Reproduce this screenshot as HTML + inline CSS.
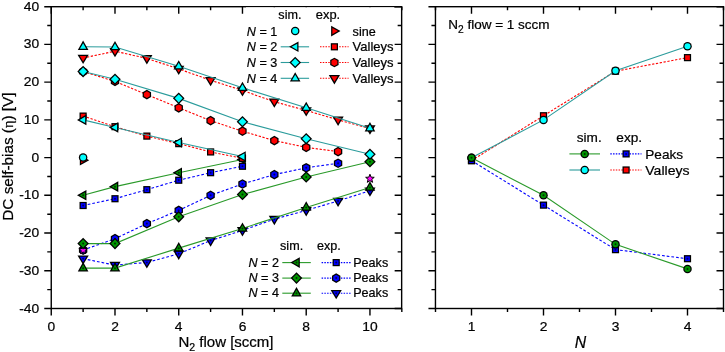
<!DOCTYPE html>
<html><head><meta charset="utf-8"><title>chart</title>
<style>html,body{margin:0;padding:0;background:#fff}svg{display:block;will-change:transform}text{stroke:#000;stroke-width:0.22px}</style></head>
<body>
<svg width="725" height="352" viewBox="0 0 725 352" font-family="Liberation Sans, sans-serif" fill="#000" stroke="none">
<rect width="725" height="352" fill="#fff"/>
<g id="ldata">
<path d="M83.12,195.32 L114.99,186.65 L178.73,172.69 L242.47,159.49" fill="none" stroke="#2a9a2a" stroke-width="1.1"/>
<polygon points="77.02,195.32 86.42,190.02 86.42,200.62" fill="#000"/><polygon points="79.57,195.32 85.17,192.16 85.17,198.49" fill="#009400"/><circle cx="83.12" cy="195.32" r="1.0" fill="#000" fill-opacity="0.65"/>
<polygon points="108.89,186.65 118.29,181.35 118.29,191.95" fill="#000"/><polygon points="111.44,186.65 117.04,183.49 117.04,189.81" fill="#009400"/><circle cx="114.99" cy="186.65" r="1.0" fill="#000" fill-opacity="0.65"/>
<polygon points="172.63,172.69 182.03,167.39 182.03,177.99" fill="#000"/><polygon points="175.18,172.69 180.78,169.53 180.78,175.85" fill="#009400"/><circle cx="178.73" cy="172.69" r="1.0" fill="#000" fill-opacity="0.65"/>
<polygon points="236.37,159.49 245.77,154.19 245.77,164.79" fill="#000"/><polygon points="238.92,159.49 244.52,156.33 244.52,162.65" fill="#009400"/><circle cx="242.47" cy="159.49" r="1.0" fill="#000" fill-opacity="0.65"/>
<path d="M83.12,58.01 L114.99,51.22 L146.86,58.38 L178.73,68.95 L210.60,80.26 L242.47,90.45 L274.34,101.77 L306.21,110.44 L338.08,119.88 L369.95,128.55" fill="none" stroke="#ff0000" stroke-width="1.1" stroke-dasharray="2.3,1.6"/>
<polygon points="83.12,64.11 88.72,54.71 77.52,54.71" fill="#000"/><polygon points="83.12,61.56 86.46,55.96 79.78,55.96" fill="#ff0000"/>
<polygon points="114.99,57.32 120.59,47.92 109.39,47.92" fill="#000"/><polygon points="114.99,54.77 118.33,49.17 111.65,49.17" fill="#ff0000"/>
<polygon points="146.86,64.48 152.46,55.08 141.26,55.08" fill="#000"/><polygon points="146.86,61.94 150.20,56.33 143.52,56.33" fill="#ff0000"/>
<polygon points="178.73,75.05 184.33,65.65 173.13,65.65" fill="#000"/><polygon points="178.73,72.50 182.07,66.90 175.39,66.90" fill="#ff0000"/>
<polygon points="210.60,86.36 216.20,76.96 205.00,76.96" fill="#000"/><polygon points="210.60,83.82 213.94,78.21 207.26,78.21" fill="#ff0000"/>
<polygon points="242.47,96.55 248.07,87.15 236.87,87.15" fill="#000"/><polygon points="242.47,94.00 245.81,88.40 239.13,88.40" fill="#ff0000"/>
<polygon points="274.34,107.87 279.94,98.47 268.74,98.47" fill="#000"/><polygon points="274.34,105.32 277.68,99.72 271.00,99.72" fill="#ff0000"/>
<polygon points="306.21,116.54 311.81,107.14 300.61,107.14" fill="#000"/><polygon points="306.21,114.00 309.55,108.39 302.87,108.39" fill="#ff0000"/>
<polygon points="338.08,125.97 343.68,116.58 332.48,116.58" fill="#000"/><polygon points="338.08,123.43 341.42,117.83 334.74,117.83" fill="#ff0000"/>
<polygon points="369.95,134.65 375.55,125.25 364.35,125.25" fill="#000"/><polygon points="369.95,132.11 373.29,126.50 366.61,126.50" fill="#ff0000"/>
<path d="M83.12,71.59 L114.99,81.40 L146.86,94.60 L178.73,107.80 L210.60,120.63 L242.47,131.19 L274.34,140.62 L306.21,147.41 L338.08,151.56" fill="none" stroke="#ff0000" stroke-width="1.1" stroke-dasharray="2.3,1.6"/>
<polygon points="83.12,66.74 87.32,69.16 87.32,74.01 83.12,76.44 78.92,74.01 78.92,69.16" fill="#000"/><polygon points="83.12,68.18 86.07,69.88 86.07,73.29 83.12,74.99 80.17,73.29 80.17,69.88" fill="#ff0000"/>
<polygon points="114.99,76.55 119.19,78.97 119.19,83.82 114.99,86.25 110.79,83.82 110.79,78.97" fill="#000"/><polygon points="114.99,77.99 117.94,79.69 117.94,83.10 114.99,84.80 112.04,83.10 112.04,79.69" fill="#ff0000"/>
<polygon points="146.86,89.75 151.06,92.17 151.06,97.02 146.86,99.45 142.66,97.02 142.66,92.17" fill="#000"/><polygon points="146.86,91.19 149.81,92.90 149.81,96.30 146.86,98.01 143.91,96.30 143.91,92.90" fill="#ff0000"/>
<polygon points="178.73,102.95 182.93,105.38 182.93,110.23 178.73,112.65 174.53,110.23 174.53,105.38" fill="#000"/><polygon points="178.73,104.40 181.68,106.10 181.68,109.51 178.73,111.21 175.78,109.51 175.78,106.10" fill="#ff0000"/>
<polygon points="210.60,115.78 214.80,118.20 214.80,123.05 210.60,125.48 206.40,123.05 206.40,118.20" fill="#000"/><polygon points="210.60,117.22 213.55,118.93 213.55,122.33 210.60,124.04 207.65,122.33 207.65,118.93" fill="#ff0000"/>
<polygon points="242.47,126.34 246.67,128.77 246.67,133.62 242.47,136.04 238.27,133.62 238.27,128.77" fill="#000"/><polygon points="242.47,127.79 245.42,129.49 245.42,132.90 242.47,134.60 239.52,132.90 239.52,129.49" fill="#ff0000"/>
<polygon points="274.34,135.77 278.54,138.20 278.54,143.05 274.34,145.47 270.14,143.05 270.14,138.20" fill="#000"/><polygon points="274.34,137.22 277.29,138.92 277.29,142.33 274.34,144.03 271.39,142.33 271.39,138.92" fill="#ff0000"/>
<polygon points="306.21,142.56 310.41,144.99 310.41,149.84 306.21,152.26 302.01,149.84 302.01,144.99" fill="#000"/><polygon points="306.21,144.01 309.16,145.71 309.16,149.12 306.21,150.82 303.26,149.12 303.26,145.71" fill="#ff0000"/>
<polygon points="338.08,146.71 342.28,149.14 342.28,153.99 338.08,156.41 333.88,153.99 333.88,149.14" fill="#000"/><polygon points="338.08,148.16 341.03,149.86 341.03,153.27 338.08,154.97 335.13,153.27 335.13,149.86" fill="#ff0000"/>
<path d="M83.12,116.10 L114.99,126.67 L146.86,136.10 L178.73,143.64 L210.60,151.94 L242.47,158.35" fill="none" stroke="#ff0000" stroke-width="1.1" stroke-dasharray="2.3,1.6"/>
<rect x="79.52" y="112.50" width="7.20" height="7.20" fill="#000"/><rect x="80.77" y="113.75" width="4.70" height="4.70" fill="#ff0000"/>
<rect x="111.39" y="123.07" width="7.20" height="7.20" fill="#000"/><rect x="112.64" y="124.32" width="4.70" height="4.70" fill="#ff0000"/>
<rect x="143.26" y="132.50" width="7.20" height="7.20" fill="#000"/><rect x="144.51" y="133.75" width="4.70" height="4.70" fill="#ff0000"/>
<rect x="175.13" y="140.04" width="7.20" height="7.20" fill="#000"/><rect x="176.38" y="141.29" width="4.70" height="4.70" fill="#ff0000"/>
<rect x="207.00" y="148.34" width="7.20" height="7.20" fill="#000"/><rect x="208.25" y="149.59" width="4.70" height="4.70" fill="#ff0000"/>
<rect x="238.87" y="154.75" width="7.20" height="7.20" fill="#000"/><rect x="240.12" y="156.00" width="4.70" height="4.70" fill="#ff0000"/>
<polygon points="89.22,160.13 79.82,154.83 79.82,165.43" fill="#000"/><polygon points="86.67,160.13 81.07,156.97 81.07,163.29" fill="#ff0000"/>
<path d="M83.12,205.51 L114.99,198.72 L146.86,189.67 L178.73,180.23 L210.60,172.69 L242.47,166.28" fill="none" stroke="#0000ff" stroke-width="1.1" stroke-dasharray="2.7,2.0"/>
<rect x="79.52" y="201.91" width="7.20" height="7.20" fill="#000"/><rect x="80.77" y="203.16" width="4.70" height="4.70" fill="#0000ff"/><circle cx="83.12" cy="205.51" r="1.0" fill="#000" fill-opacity="0.65"/>
<rect x="111.39" y="195.12" width="7.20" height="7.20" fill="#000"/><rect x="112.64" y="196.37" width="4.70" height="4.70" fill="#0000ff"/><circle cx="114.99" cy="198.72" r="1.0" fill="#000" fill-opacity="0.65"/>
<rect x="143.26" y="186.07" width="7.20" height="7.20" fill="#000"/><rect x="144.51" y="187.32" width="4.70" height="4.70" fill="#0000ff"/><circle cx="146.86" cy="189.67" r="1.0" fill="#000" fill-opacity="0.65"/>
<rect x="175.13" y="176.63" width="7.20" height="7.20" fill="#000"/><rect x="176.38" y="177.88" width="4.70" height="4.70" fill="#0000ff"/><circle cx="178.73" cy="180.23" r="1.0" fill="#000" fill-opacity="0.65"/>
<rect x="207.00" y="169.09" width="7.20" height="7.20" fill="#000"/><rect x="208.25" y="170.34" width="4.70" height="4.70" fill="#0000ff"/><circle cx="210.60" cy="172.69" r="1.0" fill="#000" fill-opacity="0.65"/>
<rect x="238.87" y="162.68" width="7.20" height="7.20" fill="#000"/><rect x="240.12" y="163.93" width="4.70" height="4.70" fill="#0000ff"/><circle cx="242.47" cy="166.28" r="1.0" fill="#000" fill-opacity="0.65"/>
<path d="M83.12,250.03 L114.99,238.71 L146.86,223.62 L178.73,210.41 L210.60,195.32 L242.47,184.01 L274.34,174.58 L306.21,167.79 L338.08,163.26" fill="none" stroke="#0000ff" stroke-width="1.1" stroke-dasharray="2.7,2.0"/>
<polygon points="83.12,245.18 87.32,247.60 87.32,252.45 83.12,254.88 78.92,252.45 78.92,247.60" fill="#000"/><polygon points="83.12,246.62 86.07,248.32 86.07,251.73 83.12,253.43 80.17,251.73 80.17,248.32" fill="#0000ff"/><circle cx="83.12" cy="250.03" r="1.0" fill="#000" fill-opacity="0.65"/>
<polygon points="114.99,233.86 119.19,236.28 119.19,241.13 114.99,243.56 110.79,241.13 110.79,236.28" fill="#000"/><polygon points="114.99,235.30 117.94,237.01 117.94,240.41 114.99,242.12 112.04,240.41 112.04,237.01" fill="#0000ff"/><circle cx="114.99" cy="238.71" r="1.0" fill="#000" fill-opacity="0.65"/>
<polygon points="146.86,218.77 151.06,221.19 151.06,226.04 146.86,228.47 142.66,226.04 142.66,221.19" fill="#000"/><polygon points="146.86,220.21 149.81,221.92 149.81,225.32 146.86,227.03 143.91,225.32 143.91,221.92" fill="#0000ff"/><circle cx="146.86" cy="223.62" r="1.0" fill="#000" fill-opacity="0.65"/>
<polygon points="178.73,205.56 182.93,207.99 182.93,212.84 178.73,215.26 174.53,212.84 174.53,207.99" fill="#000"/><polygon points="178.73,207.01 181.68,208.71 181.68,212.12 178.73,213.82 175.78,212.12 175.78,208.71" fill="#0000ff"/><circle cx="178.73" cy="210.41" r="1.0" fill="#000" fill-opacity="0.65"/>
<polygon points="210.60,190.47 214.80,192.90 214.80,197.75 210.60,200.17 206.40,197.75 206.40,192.90" fill="#000"/><polygon points="210.60,191.92 213.55,193.62 213.55,197.03 210.60,198.73 207.65,197.03 207.65,193.62" fill="#0000ff"/><circle cx="210.60" cy="195.32" r="1.0" fill="#000" fill-opacity="0.65"/>
<polygon points="242.47,179.16 246.67,181.58 246.67,186.43 242.47,188.86 238.27,186.43 238.27,181.58" fill="#000"/><polygon points="242.47,180.60 245.42,182.30 245.42,185.71 242.47,187.41 239.52,185.71 239.52,182.30" fill="#0000ff"/><circle cx="242.47" cy="184.01" r="1.0" fill="#000" fill-opacity="0.65"/>
<polygon points="274.34,169.73 278.54,172.15 278.54,177.00 274.34,179.43 270.14,177.00 270.14,172.15" fill="#000"/><polygon points="274.34,171.17 277.29,172.87 277.29,176.28 274.34,177.98 271.39,176.28 271.39,172.87" fill="#0000ff"/><circle cx="274.34" cy="174.58" r="1.0" fill="#000" fill-opacity="0.65"/>
<polygon points="306.21,162.94 310.41,165.36 310.41,170.21 306.21,172.64 302.01,170.21 302.01,165.36" fill="#000"/><polygon points="306.21,164.38 309.16,166.08 309.16,169.49 306.21,171.19 303.26,169.49 303.26,166.08" fill="#0000ff"/><circle cx="306.21" cy="167.79" r="1.0" fill="#000" fill-opacity="0.65"/>
<polygon points="338.08,158.41 342.28,160.83 342.28,165.68 338.08,168.11 333.88,165.68 333.88,160.83" fill="#000"/><polygon points="338.08,159.85 341.03,161.56 341.03,164.96 338.08,166.67 335.13,164.96 335.13,161.56" fill="#0000ff"/><circle cx="338.08" cy="163.26" r="1.0" fill="#000" fill-opacity="0.65"/>
<path d="M83.12,258.70 L114.99,265.12 L146.86,262.48 L178.73,253.80 L210.60,240.59 L242.47,230.41 L274.34,219.09 L306.21,210.41 L338.08,200.98 L369.95,190.72" fill="none" stroke="#0000ff" stroke-width="1.1" stroke-dasharray="2.7,2.0"/>
<polygon points="83.12,264.80 88.72,255.40 77.52,255.40" fill="#000"/><polygon points="83.12,262.26 86.46,256.65 79.78,256.65" fill="#0000ff"/><circle cx="83.12" cy="258.70" r="1.0" fill="#000" fill-opacity="0.65"/>
<polygon points="114.99,271.22 120.59,261.82 109.39,261.82" fill="#000"/><polygon points="114.99,268.67 118.33,263.07 111.65,263.07" fill="#0000ff"/><circle cx="114.99" cy="265.12" r="1.0" fill="#000" fill-opacity="0.65"/>
<polygon points="146.86,268.58 152.46,259.18 141.26,259.18" fill="#000"/><polygon points="146.86,266.03 150.20,260.43 143.52,260.43" fill="#0000ff"/><circle cx="146.86" cy="262.48" r="1.0" fill="#000" fill-opacity="0.65"/>
<polygon points="178.73,259.90 184.33,250.50 173.13,250.50" fill="#000"/><polygon points="178.73,257.35 182.07,251.75 175.39,251.75" fill="#0000ff"/><circle cx="178.73" cy="253.80" r="1.0" fill="#000" fill-opacity="0.65"/>
<polygon points="210.60,246.69 216.20,237.29 205.00,237.29" fill="#000"/><polygon points="210.60,244.15 213.94,238.54 207.26,238.54" fill="#0000ff"/><circle cx="210.60" cy="240.59" r="1.0" fill="#000" fill-opacity="0.65"/>
<polygon points="242.47,236.51 248.07,227.11 236.87,227.11" fill="#000"/><polygon points="242.47,233.96 245.81,228.36 239.13,228.36" fill="#0000ff"/><circle cx="242.47" cy="230.41" r="1.0" fill="#000" fill-opacity="0.65"/>
<polygon points="274.34,225.19 279.94,215.79 268.74,215.79" fill="#000"/><polygon points="274.34,222.65 277.68,217.04 271.00,217.04" fill="#0000ff"/><circle cx="274.34" cy="219.09" r="1.0" fill="#000" fill-opacity="0.65"/>
<polygon points="306.21,216.51 311.81,207.11 300.61,207.11" fill="#000"/><polygon points="306.21,213.97 309.55,208.36 302.87,208.36" fill="#0000ff"/><circle cx="306.21" cy="210.41" r="1.0" fill="#000" fill-opacity="0.65"/>
<polygon points="338.08,207.08 343.68,197.68 332.48,197.68" fill="#000"/><polygon points="338.08,204.54 341.42,198.93 334.74,198.93" fill="#0000ff"/><circle cx="338.08" cy="200.98" r="1.0" fill="#000" fill-opacity="0.65"/>
<polygon points="369.95,196.82 375.55,187.42 364.35,187.42" fill="#000"/><polygon points="369.95,194.28 373.29,188.67 366.61,188.67" fill="#0000ff"/><circle cx="369.95" cy="190.72" r="1.0" fill="#000" fill-opacity="0.65"/>
<polygon points="83.12,245.53 84.27,248.45 87.40,248.64 84.97,250.63 85.77,253.67 83.12,251.98 80.47,253.67 81.27,250.63 78.84,248.64 81.97,248.45" fill="#ff00ff" stroke="#000" stroke-width="1.0" stroke-linejoin="miter"/>
<polygon points="369.95,174.23 371.10,177.15 374.23,177.34 371.80,179.33 372.60,182.37 369.95,180.68 367.30,182.37 368.10,179.33 365.67,177.34 368.80,177.15" fill="#ff00ff" stroke="#000" stroke-width="1.0" stroke-linejoin="miter"/>
<path d="M83.12,243.61 L114.99,243.61 L178.73,216.83 L242.47,194.57 L306.21,177.03 L369.95,161.75" fill="none" stroke="#2a9a2a" stroke-width="1.1"/>
<polygon points="77.32,243.61 83.12,237.81 88.92,243.61 83.12,249.41" fill="#000"/><polygon points="79.09,243.61 83.12,239.58 87.15,243.61 83.12,247.65" fill="#009400"/><circle cx="83.12" cy="243.61" r="1.0" fill="#000" fill-opacity="0.65"/>
<polygon points="109.19,243.61 114.99,237.81 120.79,243.61 114.99,249.41" fill="#000"/><polygon points="110.96,243.61 114.99,239.58 119.02,243.61 114.99,247.65" fill="#009400"/><circle cx="114.99" cy="243.61" r="1.0" fill="#000" fill-opacity="0.65"/>
<polygon points="172.93,216.83 178.73,211.03 184.53,216.83 178.73,222.63" fill="#000"/><polygon points="174.70,216.83 178.73,212.80 182.76,216.83 178.73,220.86" fill="#009400"/><circle cx="178.73" cy="216.83" r="1.0" fill="#000" fill-opacity="0.65"/>
<polygon points="236.67,194.57 242.47,188.77 248.27,194.57 242.47,200.37" fill="#000"/><polygon points="238.44,194.57 242.47,190.54 246.50,194.57 242.47,198.60" fill="#009400"/><circle cx="242.47" cy="194.57" r="1.0" fill="#000" fill-opacity="0.65"/>
<polygon points="300.41,177.03 306.21,171.23 312.01,177.03 306.21,182.83" fill="#000"/><polygon points="302.18,177.03 306.21,173.00 310.24,177.03 306.21,181.06" fill="#009400"/><circle cx="306.21" cy="177.03" r="1.0" fill="#000" fill-opacity="0.65"/>
<polygon points="364.15,161.75 369.95,155.95 375.75,161.75 369.95,167.55" fill="#000"/><polygon points="365.92,161.75 369.95,157.72 373.98,161.75 369.95,165.78" fill="#009400"/><circle cx="369.95" cy="161.75" r="1.0" fill="#000" fill-opacity="0.65"/>
<path d="M83.12,268.13 L114.99,268.13 L178.73,248.14 L242.47,228.52 L306.21,207.40 L369.95,187.40" fill="none" stroke="#2a9a2a" stroke-width="1.1"/>
<polygon points="83.12,262.03 88.42,271.43 77.82,271.43" fill="#000"/><polygon points="83.12,264.58 86.28,270.18 79.96,270.18" fill="#009400"/><circle cx="83.12" cy="268.13" r="1.0" fill="#000" fill-opacity="0.65"/>
<polygon points="114.99,262.03 120.29,271.43 109.69,271.43" fill="#000"/><polygon points="114.99,264.58 118.15,270.18 111.83,270.18" fill="#009400"/><circle cx="114.99" cy="268.13" r="1.0" fill="#000" fill-opacity="0.65"/>
<polygon points="178.73,242.04 184.03,251.44 173.43,251.44" fill="#000"/><polygon points="178.73,244.59 181.89,250.19 175.57,250.19" fill="#009400"/><circle cx="178.73" cy="248.14" r="1.0" fill="#000" fill-opacity="0.65"/>
<polygon points="242.47,222.42 247.77,231.82 237.17,231.82" fill="#000"/><polygon points="242.47,224.97 245.63,230.57 239.31,230.57" fill="#009400"/><circle cx="242.47" cy="228.52" r="1.0" fill="#000" fill-opacity="0.65"/>
<polygon points="306.21,201.30 311.51,210.70 300.91,210.70" fill="#000"/><polygon points="306.21,203.84 309.37,209.45 303.05,209.45" fill="#009400"/><circle cx="306.21" cy="207.40" r="1.0" fill="#000" fill-opacity="0.65"/>
<polygon points="369.95,181.30 375.25,190.70 364.65,190.70" fill="#000"/><polygon points="369.95,183.85 373.11,189.45 366.79,189.45" fill="#009400"/><circle cx="369.95" cy="187.40" r="1.0" fill="#000" fill-opacity="0.65"/>
<circle cx="83.12" cy="157.60" r="4.25" fill="#000"/><circle cx="83.12" cy="157.60" r="3.0" fill="#00ffff"/>
<path d="M83.12,119.88 L114.99,127.42 L178.73,142.51 L242.47,156.47" fill="none" stroke="#2b9c9c" stroke-width="1.1"/>
<polygon points="77.02,119.88 86.42,114.58 86.42,125.17" fill="#000"/><polygon points="79.57,119.88 85.17,116.71 85.17,123.04" fill="#00ffff"/>
<polygon points="108.89,127.42 118.29,122.12 118.29,132.72" fill="#000"/><polygon points="111.44,127.42 117.04,124.26 117.04,130.58" fill="#00ffff"/>
<polygon points="172.63,142.51 182.03,137.21 182.03,147.81" fill="#000"/><polygon points="175.18,142.51 180.78,139.35 180.78,145.67" fill="#00ffff"/>
<polygon points="236.37,156.47 245.77,151.17 245.77,161.77" fill="#000"/><polygon points="238.92,156.47 244.52,153.31 244.52,159.63" fill="#00ffff"/>
<path d="M83.12,71.59 L114.99,79.32 L178.73,98.37 L242.47,121.76 L306.21,138.74 L369.95,154.20" fill="none" stroke="#2b9c9c" stroke-width="1.1"/>
<polygon points="77.32,71.59 83.12,65.79 88.92,71.59 83.12,77.39" fill="#000"/><polygon points="79.09,71.59 83.12,67.55 87.15,71.59 83.12,75.62" fill="#00ffff"/>
<polygon points="109.19,79.32 114.99,73.52 120.79,79.32 114.99,85.12" fill="#000"/><polygon points="110.96,79.32 114.99,75.29 119.02,79.32 114.99,83.35" fill="#00ffff"/>
<polygon points="172.93,98.37 178.73,92.57 184.53,98.37 178.73,104.17" fill="#000"/><polygon points="174.70,98.37 178.73,94.34 182.76,98.37 178.73,102.40" fill="#00ffff"/>
<polygon points="236.67,121.76 242.47,115.96 248.27,121.76 242.47,127.56" fill="#000"/><polygon points="238.44,121.76 242.47,117.73 246.50,121.76 242.47,125.79" fill="#00ffff"/>
<polygon points="300.41,138.74 306.21,132.94 312.01,138.74 306.21,144.54" fill="#000"/><polygon points="302.18,138.74 306.21,134.71 310.24,138.74 306.21,142.77" fill="#00ffff"/>
<polygon points="364.15,154.20 369.95,148.40 375.75,154.20 369.95,160.00" fill="#000"/><polygon points="365.92,154.20 369.95,150.17 373.98,154.20 369.95,158.24" fill="#00ffff"/>
<path d="M83.12,46.69 L114.99,47.07 L178.73,66.31 L242.47,87.81 L306.21,107.80 L369.95,128.17" fill="none" stroke="#2b9c9c" stroke-width="1.1"/>
<polygon points="83.12,40.59 88.42,49.99 77.82,49.99" fill="#000"/><polygon points="83.12,43.13 86.28,48.74 79.96,48.74" fill="#00ffff"/>
<polygon points="114.99,40.97 120.29,50.37 109.69,50.37" fill="#000"/><polygon points="114.99,43.51 118.15,49.12 111.83,49.12" fill="#00ffff"/>
<polygon points="178.73,60.21 184.03,69.61 173.43,69.61" fill="#000"/><polygon points="178.73,62.75 181.89,68.36 175.57,68.36" fill="#00ffff"/>
<polygon points="242.47,81.71 247.77,91.11 237.17,91.11" fill="#000"/><polygon points="242.47,84.25 245.63,89.86 239.31,89.86" fill="#00ffff"/>
<polygon points="306.21,101.70 311.51,111.10 300.91,111.10" fill="#000"/><polygon points="306.21,104.25 309.37,109.85 303.05,109.85" fill="#00ffff"/>
<polygon points="369.95,122.07 375.25,131.47 364.65,131.47" fill="#000"/><polygon points="369.95,124.62 373.11,130.22 366.79,130.22" fill="#00ffff"/>
</g>
<g id="rdata">
<path d="M471.50,160.62 L543.50,115.73 L615.50,71.21 L687.50,57.63" fill="none" stroke="#ff0000" stroke-width="1.1" stroke-dasharray="2.3,1.6"/>
<rect x="467.90" y="157.02" width="7.20" height="7.20" fill="#000"/><rect x="469.15" y="158.27" width="4.70" height="4.70" fill="#ff0000"/>
<rect x="539.90" y="112.13" width="7.20" height="7.20" fill="#000"/><rect x="541.15" y="113.38" width="4.70" height="4.70" fill="#ff0000"/>
<rect x="611.90" y="67.61" width="7.20" height="7.20" fill="#000"/><rect x="613.15" y="68.86" width="4.70" height="4.70" fill="#ff0000"/>
<rect x="683.90" y="54.03" width="7.20" height="7.20" fill="#000"/><rect x="685.15" y="55.28" width="4.70" height="4.70" fill="#ff0000"/>
<path d="M471.50,160.62 L543.50,205.13 L615.50,249.65 L687.50,258.70" fill="none" stroke="#0000ff" stroke-width="1.1" stroke-dasharray="2.7,2.0"/>
<rect x="467.90" y="157.02" width="7.20" height="7.20" fill="#000"/><rect x="469.15" y="158.27" width="4.70" height="4.70" fill="#0000ff"/><circle cx="471.50" cy="160.62" r="1.0" fill="#000" fill-opacity="0.65"/>
<rect x="539.90" y="201.53" width="7.20" height="7.20" fill="#000"/><rect x="541.15" y="202.78" width="4.70" height="4.70" fill="#0000ff"/><circle cx="543.50" cy="205.13" r="1.0" fill="#000" fill-opacity="0.65"/>
<rect x="611.90" y="246.05" width="7.20" height="7.20" fill="#000"/><rect x="613.15" y="247.30" width="4.70" height="4.70" fill="#0000ff"/><circle cx="615.50" cy="249.65" r="1.0" fill="#000" fill-opacity="0.65"/>
<rect x="683.90" y="255.10" width="7.20" height="7.20" fill="#000"/><rect x="685.15" y="256.35" width="4.70" height="4.70" fill="#0000ff"/><circle cx="687.50" cy="258.70" r="1.0" fill="#000" fill-opacity="0.65"/>
<path d="M471.50,157.79 L543.50,119.88 L615.50,70.83 L687.50,46.31" fill="none" stroke="#2b9c9c" stroke-width="1.1"/>
<circle cx="471.50" cy="157.79" r="4.25" fill="#000"/><circle cx="471.50" cy="157.79" r="3.0" fill="#00ffff"/>
<circle cx="543.50" cy="119.88" r="4.25" fill="#000"/><circle cx="543.50" cy="119.88" r="3.0" fill="#00ffff"/>
<circle cx="615.50" cy="70.83" r="4.25" fill="#000"/><circle cx="615.50" cy="70.83" r="3.0" fill="#00ffff"/>
<circle cx="687.50" cy="46.31" r="4.25" fill="#000"/><circle cx="687.50" cy="46.31" r="3.0" fill="#00ffff"/>
<path d="M471.50,157.79 L543.50,195.32 L615.50,244.37 L687.50,268.89" fill="none" stroke="#2a9a2a" stroke-width="1.1"/>
<circle cx="471.50" cy="157.79" r="4.25" fill="#000"/><circle cx="471.50" cy="157.79" r="3.0" fill="#009400"/><circle cx="471.50" cy="157.79" r="1.0" fill="#000" fill-opacity="0.65"/>
<circle cx="543.50" cy="195.32" r="4.25" fill="#000"/><circle cx="543.50" cy="195.32" r="3.0" fill="#009400"/><circle cx="543.50" cy="195.32" r="1.0" fill="#000" fill-opacity="0.65"/>
<circle cx="615.50" cy="244.37" r="4.25" fill="#000"/><circle cx="615.50" cy="244.37" r="3.0" fill="#009400"/><circle cx="615.50" cy="244.37" r="1.0" fill="#000" fill-opacity="0.65"/>
<circle cx="687.50" cy="268.89" r="4.25" fill="#000"/><circle cx="687.50" cy="268.89" r="3.0" fill="#009400"/><circle cx="687.50" cy="268.89" r="1.0" fill="#000" fill-opacity="0.65"/>
</g>
<g stroke="#000" stroke-width="1.4" fill="none">
<rect x="51.25" y="6.7" width="350.40" height="301.80"/>
<path d="M51.25,308.50h-7M401.65,308.50h-7"/>
<path d="M51.25,289.64h-4M401.65,289.64h-4"/>
<path d="M51.25,270.77h-7M401.65,270.77h-7"/>
<path d="M51.25,251.91h-4M401.65,251.91h-4"/>
<path d="M51.25,233.05h-7M401.65,233.05h-7"/>
<path d="M51.25,214.19h-4M401.65,214.19h-4"/>
<path d="M51.25,195.32h-7M401.65,195.32h-7"/>
<path d="M51.25,176.46h-4M401.65,176.46h-4"/>
<path d="M51.25,157.60h-7M401.65,157.60h-7"/>
<path d="M51.25,138.74h-4M401.65,138.74h-4"/>
<path d="M51.25,119.88h-7M401.65,119.88h-7"/>
<path d="M51.25,101.01h-4M401.65,101.01h-4"/>
<path d="M51.25,82.15h-7M401.65,82.15h-7"/>
<path d="M51.25,63.29h-4M401.65,63.29h-4"/>
<path d="M51.25,44.42h-7M401.65,44.42h-7"/>
<path d="M51.25,25.56h-4M401.65,25.56h-4"/>
<path d="M51.25,6.70h-7M401.65,6.70h-7"/>
<path d="M51.25,308.5v7M51.25,6.7v7"/>
<path d="M114.99,308.5v7M114.99,6.7v7"/>
<path d="M178.73,308.5v7M178.73,6.7v7"/>
<path d="M242.47,308.5v7M242.47,6.7v7"/>
<path d="M306.21,308.5v7M306.21,6.7v7"/>
<path d="M369.95,308.5v7M369.95,6.7v7"/>
<path d="M83.12,308.5v3.5M83.12,6.7v3.5"/>
<path d="M146.86,308.5v3.5M146.86,6.7v3.5"/>
<path d="M210.60,308.5v3.5M210.60,6.7v3.5"/>
<path d="M274.34,308.5v3.5M274.34,6.7v3.5"/>
<path d="M338.08,308.5v3.5M338.08,6.7v3.5"/>
<path d="M401.82,308.5v3.5M401.82,6.7v3.5"/>
</g>
<g stroke="#000" stroke-width="1.4" fill="none">
<rect x="435.45" y="6.7" width="288.05" height="301.80"/>
<path d="M435.45,308.50h-7M723.5,308.50h-7"/>
<path d="M435.45,289.64h-4M723.5,289.64h-4"/>
<path d="M435.45,270.77h-7M723.5,270.77h-7"/>
<path d="M435.45,251.91h-4M723.5,251.91h-4"/>
<path d="M435.45,233.05h-7M723.5,233.05h-7"/>
<path d="M435.45,214.19h-4M723.5,214.19h-4"/>
<path d="M435.45,195.32h-7M723.5,195.32h-7"/>
<path d="M435.45,176.46h-4M723.5,176.46h-4"/>
<path d="M435.45,157.60h-7M723.5,157.60h-7"/>
<path d="M435.45,138.74h-4M723.5,138.74h-4"/>
<path d="M435.45,119.88h-7M723.5,119.88h-7"/>
<path d="M435.45,101.01h-4M723.5,101.01h-4"/>
<path d="M435.45,82.15h-7M723.5,82.15h-7"/>
<path d="M435.45,63.29h-4M723.5,63.29h-4"/>
<path d="M435.45,44.42h-7M723.5,44.42h-7"/>
<path d="M435.45,25.56h-4M723.5,25.56h-4"/>
<path d="M435.45,6.70h-7M723.5,6.70h-7"/>
<path d="M471.50,308.5v7M471.50,6.7v7"/>
<path d="M543.50,308.5v7M543.50,6.7v7"/>
<path d="M615.50,308.5v7M615.50,6.7v7"/>
<path d="M687.50,308.5v7M687.50,6.7v7"/>
<path d="M435.50,308.5v3.5M435.50,6.7v3.5"/>
<path d="M507.50,308.5v3.5M507.50,6.7v3.5"/>
<path d="M579.50,308.5v3.5M579.50,6.7v3.5"/>
<path d="M651.50,308.5v3.5M651.50,6.7v3.5"/>
<path d="M723.50,308.5v3.5M723.50,6.7v3.5"/>
</g>
<g font-size="13.7px">
<text x="39.2" y="312.50" text-anchor="end" textLength="19.99" lengthAdjust="spacingAndGlyphs">-40</text>
<text x="39.2" y="274.77" text-anchor="end" textLength="19.99" lengthAdjust="spacingAndGlyphs">-30</text>
<text x="39.2" y="237.05" text-anchor="end" textLength="19.99" lengthAdjust="spacingAndGlyphs">-20</text>
<text x="39.2" y="199.32" text-anchor="end" textLength="19.99" lengthAdjust="spacingAndGlyphs">-10</text>
<text x="39.2" y="161.60" text-anchor="end" textLength="7.69" lengthAdjust="spacingAndGlyphs">0</text>
<text x="39.2" y="123.88" text-anchor="end" textLength="15.39" lengthAdjust="spacingAndGlyphs">10</text>
<text x="39.2" y="86.15" text-anchor="end" textLength="15.39" lengthAdjust="spacingAndGlyphs">20</text>
<text x="39.2" y="48.42" text-anchor="end" textLength="15.39" lengthAdjust="spacingAndGlyphs">30</text>
<text x="39.2" y="10.70" text-anchor="end" textLength="15.39" lengthAdjust="spacingAndGlyphs">40</text>
<text x="51.25" y="330.9" text-anchor="middle" textLength="7.69" lengthAdjust="spacingAndGlyphs">0</text>
<text x="114.99" y="330.9" text-anchor="middle" textLength="7.69" lengthAdjust="spacingAndGlyphs">2</text>
<text x="178.73" y="330.9" text-anchor="middle" textLength="7.69" lengthAdjust="spacingAndGlyphs">4</text>
<text x="242.47" y="330.9" text-anchor="middle" textLength="7.69" lengthAdjust="spacingAndGlyphs">6</text>
<text x="306.21" y="330.9" text-anchor="middle" textLength="7.69" lengthAdjust="spacingAndGlyphs">8</text>
<text x="369.95" y="330.9" text-anchor="middle" textLength="15.39" lengthAdjust="spacingAndGlyphs">10</text>
<text x="471.50" y="330.9" text-anchor="middle" textLength="7.69" lengthAdjust="spacingAndGlyphs">1</text>
<text x="543.50" y="330.9" text-anchor="middle" textLength="7.69" lengthAdjust="spacingAndGlyphs">2</text>
<text x="615.50" y="330.9" text-anchor="middle" textLength="7.69" lengthAdjust="spacingAndGlyphs">3</text>
<text x="687.50" y="330.9" text-anchor="middle" textLength="7.69" lengthAdjust="spacingAndGlyphs">4</text>
</g>
<text font-size="15px" transform="translate(12.8,156.6) rotate(-90)" text-anchor="middle" textLength="128.2" lengthAdjust="spacingAndGlyphs">DC self-bias (<tspan font-family="Liberation Serif, serif" font-size="14px">η</tspan>) [V]</text>
<text font-size="15px" x="226" y="347" text-anchor="middle">N<tspan font-size="10.5px" dy="3.8">2</tspan><tspan dy="-3.8"> flow [sccm]</tspan></text>
<text font-size="15.8px" x="580.4" y="347.7" text-anchor="middle" font-style="italic">N</text>
<rect x="246" y="7.3" width="148" height="81" fill="#fff"/>
<text x="289.9" y="19.2" font-size="12.6px" text-anchor="middle">sim.</text>
<text x="315.8" y="19.2" font-size="12.6px" textLength="24.4" lengthAdjust="spacingAndGlyphs">exp.</text>
<text x="246.8" y="35.64" font-size="12.6px"><tspan font-style="italic">N</tspan> = 1</text>
<circle cx="295.20" cy="31.10" r="4.25" fill="#000"/><circle cx="295.20" cy="31.10" r="3.0" fill="#00ffff"/>
<polygon points="340.50,31.10 331.10,25.80 331.10,36.40" fill="#000"/><polygon points="337.95,31.10 332.35,27.94 332.35,34.26" fill="#ff0000"/>
<text x="352.6" y="35.64" font-size="12.6px">sine</text>
<text x="246.8" y="51.34" font-size="12.6px"><tspan font-style="italic">N</tspan> = 2</text>
<path d="M280.70,46.80 L309.10,46.80" fill="none" stroke="#2b9c9c" stroke-width="1.1"/>
<polygon points="289.10,46.80 298.50,41.50 298.50,52.10" fill="#000"/><polygon points="291.65,46.80 297.25,43.64 297.25,49.96" fill="#00ffff"/>
<path d="M320.00,46.80 L348.60,46.80" fill="none" stroke="#ff0000" stroke-width="1.1" stroke-dasharray="1.5,1.25"/>
<rect x="330.80" y="43.20" width="7.20" height="7.20" fill="#000"/><rect x="332.05" y="44.45" width="4.70" height="4.70" fill="#ff0000"/>
<text x="352.6" y="51.34" font-size="12.6px" textLength="41.00" lengthAdjust="spacingAndGlyphs">Valleys</text>
<text x="246.8" y="67.04" font-size="12.6px"><tspan font-style="italic">N</tspan> = 3</text>
<path d="M280.70,62.50 L309.10,62.50" fill="none" stroke="#2b9c9c" stroke-width="1.1"/>
<polygon points="289.40,62.50 295.20,56.70 301.00,62.50 295.20,68.30" fill="#000"/><polygon points="291.17,62.50 295.20,58.47 299.23,62.50 295.20,66.53" fill="#00ffff"/>
<path d="M320.00,62.50 L348.60,62.50" fill="none" stroke="#ff0000" stroke-width="1.1" stroke-dasharray="1.5,1.25"/>
<polygon points="334.40,57.65 338.60,60.08 338.60,64.92 334.40,67.35 330.20,64.92 330.20,60.08" fill="#000"/><polygon points="334.40,59.09 337.35,60.80 337.35,64.20 334.40,65.91 331.45,64.20 331.45,60.80" fill="#ff0000"/>
<text x="352.6" y="67.04" font-size="12.6px" textLength="41.00" lengthAdjust="spacingAndGlyphs">Valleys</text>
<text x="246.8" y="82.84" font-size="12.6px"><tspan font-style="italic">N</tspan> = 4</text>
<path d="M280.70,78.30 L309.10,78.30" fill="none" stroke="#2b9c9c" stroke-width="1.1"/>
<polygon points="295.20,72.20 300.50,81.60 289.90,81.60" fill="#000"/><polygon points="295.20,74.75 298.36,80.35 292.04,80.35" fill="#00ffff"/>
<path d="M320.00,78.30 L348.60,78.30" fill="none" stroke="#ff0000" stroke-width="1.1" stroke-dasharray="1.5,1.25"/>
<polygon points="334.40,84.40 340.00,75.00 328.80,75.00" fill="#000"/><polygon points="334.40,81.85 337.74,76.25 331.06,76.25" fill="#ff0000"/>
<text x="352.6" y="82.84" font-size="12.6px" textLength="41.00" lengthAdjust="spacingAndGlyphs">Valleys</text>
<text x="291.6" y="249.6" font-size="12.6px" text-anchor="middle">sim.</text>
<text x="328.9" y="249.6" font-size="12.6px" text-anchor="middle">exp.</text>
<text x="248.5" y="266.70" font-size="12.6px"><tspan font-style="italic">N</tspan> = 2</text>
<path d="M282.30,262.60 L310.80,262.60" fill="none" stroke="#2a9a2a" stroke-width="1.1"/>
<polygon points="290.40,262.60 299.80,257.30 299.80,267.90" fill="#000"/><polygon points="292.95,262.60 298.55,259.44 298.55,265.76" fill="#009400"/><circle cx="296.50" cy="262.60" r="1.0" fill="#000" fill-opacity="0.65"/>
<path d="M321.60,262.60 L351.80,262.60" fill="none" stroke="#0000ff" stroke-width="1.1" stroke-dasharray="1.5,1.25"/>
<rect x="332.60" y="259.00" width="7.20" height="7.20" fill="#000"/><rect x="333.85" y="260.25" width="4.70" height="4.70" fill="#0000ff"/><circle cx="336.20" cy="262.60" r="1.0" fill="#000" fill-opacity="0.65"/>
<text x="353.2" y="266.70" font-size="12.6px">Peaks</text>
<text x="248.5" y="282.20" font-size="12.6px"><tspan font-style="italic">N</tspan> = 3</text>
<path d="M282.30,278.10 L310.80,278.10" fill="none" stroke="#2a9a2a" stroke-width="1.1"/>
<polygon points="290.70,278.10 296.50,272.30 302.30,278.10 296.50,283.90" fill="#000"/><polygon points="292.47,278.10 296.50,274.07 300.53,278.10 296.50,282.13" fill="#009400"/><circle cx="296.50" cy="278.10" r="1.0" fill="#000" fill-opacity="0.65"/>
<path d="M321.60,278.10 L351.80,278.10" fill="none" stroke="#0000ff" stroke-width="1.1" stroke-dasharray="1.5,1.25"/>
<polygon points="336.20,273.25 340.40,275.68 340.40,280.53 336.20,282.95 332.00,280.53 332.00,275.68" fill="#000"/><polygon points="336.20,274.69 339.15,276.40 339.15,279.80 336.20,281.51 333.25,279.80 333.25,276.40" fill="#0000ff"/><circle cx="336.20" cy="278.10" r="1.0" fill="#000" fill-opacity="0.65"/>
<text x="353.2" y="282.20" font-size="12.6px">Peaks</text>
<text x="248.5" y="297.30" font-size="12.6px"><tspan font-style="italic">N</tspan> = 4</text>
<path d="M282.30,293.20 L310.80,293.20" fill="none" stroke="#2a9a2a" stroke-width="1.1"/>
<polygon points="296.50,287.10 301.80,296.50 291.20,296.50" fill="#000"/><polygon points="296.50,289.65 299.66,295.25 293.34,295.25" fill="#009400"/><circle cx="296.50" cy="293.20" r="1.0" fill="#000" fill-opacity="0.65"/>
<path d="M321.60,293.20 L351.80,293.20" fill="none" stroke="#0000ff" stroke-width="1.1" stroke-dasharray="1.5,1.25"/>
<polygon points="336.20,299.30 341.80,289.90 330.60,289.90" fill="#000"/><polygon points="336.20,296.75 339.54,291.15 332.86,291.15" fill="#0000ff"/><circle cx="336.20" cy="293.20" r="1.0" fill="#000" fill-opacity="0.65"/>
<text x="353.2" y="297.30" font-size="12.6px">Peaks</text>
<text x="589.2" y="141.7" font-size="13.6px" text-anchor="middle">sim.</text>
<text x="629.2" y="141.7" font-size="13.6px" text-anchor="middle">exp.</text>
<path d="M569.40,153.90 L600.00,153.90" fill="none" stroke="#2a9a2a" stroke-width="1.1"/>
<circle cx="584.70" cy="153.90" r="4.25" fill="#000"/><circle cx="584.70" cy="153.90" r="3.0" fill="#009400"/><circle cx="584.70" cy="153.90" r="1.0" fill="#000" fill-opacity="0.65"/>
<path d="M610.30,153.90 L641.50,153.90" fill="none" stroke="#0000ff" stroke-width="1.1" stroke-dasharray="1.5,1.25"/>
<rect x="622.50" y="150.30" width="7.20" height="7.20" fill="#000"/><rect x="623.75" y="151.55" width="4.70" height="4.70" fill="#0000ff"/><circle cx="626.10" cy="153.90" r="1.0" fill="#000" fill-opacity="0.65"/>
<text x="645.3" y="158.80" font-size="13.6px">Peaks</text>
<path d="M569.40,170.00 L600.00,170.00" fill="none" stroke="#2b9c9c" stroke-width="1.1"/>
<circle cx="584.70" cy="170.00" r="4.25" fill="#000"/><circle cx="584.70" cy="170.00" r="3.0" fill="#00ffff"/>
<path d="M610.30,170.00 L641.50,170.00" fill="none" stroke="#ff0000" stroke-width="1.1" stroke-dasharray="1.5,1.25"/>
<rect x="622.50" y="166.40" width="7.20" height="7.20" fill="#000"/><rect x="623.75" y="167.65" width="4.70" height="4.70" fill="#ff0000"/>
<text x="645.3" y="174.90" font-size="13.6px" textLength="44.25" lengthAdjust="spacingAndGlyphs">Valleys</text>
<text font-size="13.5px" x="448.3" y="28.5">N<tspan font-size="10.2px" dy="4">2</tspan><tspan dy="-4"> flow = 1 sccm</tspan></text>
</svg>
</body></html>
